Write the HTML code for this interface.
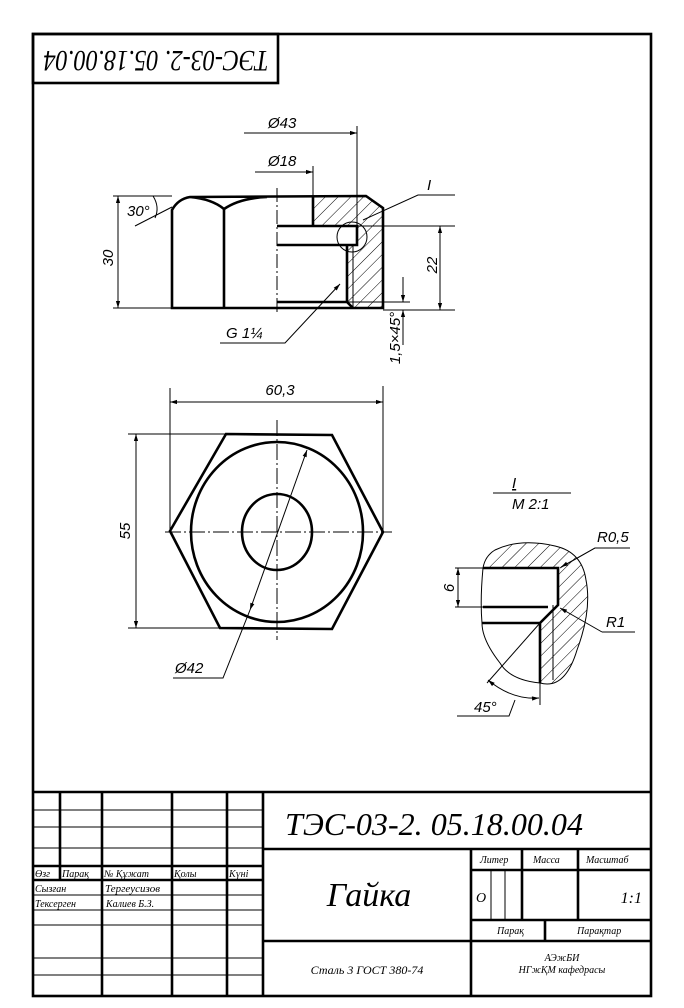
<!DOCTYPE html>
<html><head><meta charset="utf-8"><style>
html,body{margin:0;padding:0;background:#fff}
svg{display:block}
.k{stroke:#000;fill:none;stroke-width:2.6}
.t{stroke:#000;fill:none;stroke-width:1}
.d{font-family:"Liberation Sans",sans-serif;font-style:italic;font-size:15px;fill:#000}
.s{font-family:"Liberation Serif","DejaVu Serif",serif;font-style:italic;fill:#000}
</style></head><body>
<svg width="684" height="1008" viewBox="0 0 684 1008" xmlns="http://www.w3.org/2000/svg">
<defs>
<pattern id="h" width="9" height="9" patternUnits="userSpaceOnUse" patternTransform="rotate(45)">
<line x1="0" y1="0" x2="0" y2="9" stroke="#000" stroke-width="1"/></pattern>
<marker id="a" viewBox="0 0 10 10" refX="10" refY="5" markerWidth="9" markerHeight="7" orient="auto-start-reverse" markerUnits="userSpaceOnUse"><path d="M0,2 L10,5 L0,8z" fill="#000"/></marker>
</defs>
<!-- frame -->
<rect x="33" y="34" width="618" height="962" class="k" stroke-width="3"/>
<rect x="33" y="34" width="245" height="49" class="k"/>
<text class="s" font-size="30" transform="translate(156,58) rotate(180)" text-anchor="middle" dominant-baseline="middle" textLength="225" lengthAdjust="spacingAndGlyphs">ТЭС-03-2. 05.18.00.04</text>

<!-- FRONT VIEW -->
<path class="k" fill="url(#h)" stroke="none" d="M313,196 L366,196 L383,208 L383,308 L353,308 L347,302 L347,245 L357,245 L357,226 L313,226Z" style="fill:url(#h);stroke:none"/>
<path class="k" d="M190,197 L366,196 L383,208 L383,308 L172,308 L172,210 Q178,199 190,197 Q212,199 224,209 Q240,198 267,197"/>
<line class="k" x1="224" y1="209" x2="224" y2="308"/>
<path class="k" d="M313,196 L313,226 M277,226 L357,226 L357,245 L277,245 M347,245 L347,302 L353,308 M277,302 L347,302"/>
<line class="t" x1="353" y1="245" x2="353" y2="308"/>
<line class="t" x1="277" y1="188" x2="277" y2="314" stroke-dasharray="14,3,2,3"/>
<!-- dims front -->
<line class="t" x1="244" y1="133" x2="357" y2="133" marker-end="url(#a)"/>
<line class="t" x1="357" y1="126" x2="357" y2="245"/>
<text class="d" x="268" y="128">Ø43</text>
<line class="t" x1="255" y1="172" x2="313" y2="172" marker-end="url(#a)"/>
<line class="t" x1="313" y1="166" x2="313" y2="196"/>
<text class="d" x="268" y="166">Ø18</text>
<line class="t" x1="113" y1="196" x2="172" y2="196"/><line class="t" x1="113" y1="308" x2="172" y2="308"/>
<line class="t" x1="118" y1="196" x2="118" y2="308" marker-start="url(#a)" marker-end="url(#a)"/>
<text class="d" transform="translate(113,258) rotate(-90)" text-anchor="middle">30</text>
<text class="d" x="127" y="216" font-size="13">30°</text>
<path class="t" d="M153,196 Q160,207 155,218 M135,226 L172,207"/>
<line class="t" x1="357" y1="226" x2="455" y2="226"/><line class="t" x1="383" y1="310" x2="455" y2="310"/>
<line class="t" x1="440" y1="226" x2="440" y2="310" marker-start="url(#a)" marker-end="url(#a)"/>
<text class="d" transform="translate(437,265) rotate(-90)" text-anchor="middle">22</text>
<line class="t" x1="347" y1="302" x2="410" y2="302"/>
<line class="t" x1="403" y1="277" x2="403" y2="302" marker-end="url(#a)"/>
<line class="t" x1="403" y1="345" x2="403" y2="310" marker-end="url(#a)"/>
<text class="d" font-size="11" transform="translate(400,338) rotate(-90)" text-anchor="middle">1,5×45°</text>
<circle class="t" cx="352" cy="237" r="15"/>
<path class="t" d="M363,220 L418,195 L455,195"/>
<text class="d" x="427" y="190" font-size="17">I</text>
<path class="t" d="M340,284 L285,343 L220,343" marker-start="url(#a)"/>
<text class="d" x="226" y="338">G 1¼</text>

<!-- TOP VIEW -->
<polygon class="k" points="170,531 226,434 332,435 383,532 332,629 220,628"/>
<ellipse class="k" cx="277" cy="532" rx="86" ry="90"/>
<ellipse class="k" cx="277" cy="532" rx="35" ry="38"/>
<line class="t" x1="165" y1="532" x2="392" y2="532" stroke-dasharray="16,3,2,3"/>
<line class="t" x1="277" y1="420" x2="277" y2="640" stroke-dasharray="16,3,2,3"/>
<line class="t" x1="170" y1="388" x2="170" y2="531"/><line class="t" x1="383" y1="386" x2="383" y2="532"/>
<line class="t" x1="170" y1="402" x2="383" y2="402" marker-start="url(#a)" marker-end="url(#a)"/>
<text class="d" x="280" y="395" text-anchor="middle">60,3</text>
<line class="t" x1="128" y1="434" x2="226" y2="434"/><line class="t" x1="128" y1="628" x2="220" y2="628"/>
<line class="t" x1="136" y1="434" x2="136" y2="628" marker-start="url(#a)" marker-end="url(#a)"/>
<text class="d" transform="translate(130,531) rotate(-90)" text-anchor="middle">55</text>
<line class="t" x1="307" y1="450" x2="250" y2="610" marker-start="url(#a)" marker-end="url(#a)"/>
<path class="t" d="M250,610 L223,678 L173,678"/>
<text class="d" x="175" y="673">Ø42</text>

<!-- DETAIL I -->
<text class="d" x="512" y="488" font-size="16" text-decoration="underline">I</text>
<line class="t" x1="493" y1="493" x2="571" y2="493"/>
<text class="d" x="512" y="509" font-size="13">M 2:1</text>
<path fill="url(#h)" d="M483,568 L558,568 L558,605 L540,623 L540,683 Q565,690 577,650 Q592,610 586,580 Q582,552 555,546 Q520,538 495,550 Q485,556 483,568Z"/>
<path class="t" d="M483,568 Q485,556 495,550 Q520,538 555,546 Q582,552 586,580 Q592,610 577,650 Q565,690 540,683 Q510,680 500,663 Q482,640 482,623 Q480,600 483,568Z"/>
<path class="k" d="M483,568 L558,568 L558,605 L540,623 L540,683 M483,607 L548,607 M482,623 L540,623"/>
<line class="t" x1="553" y1="605" x2="553" y2="680"/>
<line class="t" x1="455" y1="568" x2="483" y2="568"/><line class="t" x1="455" y1="607" x2="483" y2="607"/>
<line class="t" x1="458" y1="568" x2="458" y2="607" marker-start="url(#a)" marker-end="url(#a)"/>
<text class="d" transform="translate(454,588) rotate(-90)" text-anchor="middle">6</text>
<path class="t" d="M630,548 L595,548 L560,568" />
<line class="t" x1="595" y1="548" x2="561" y2="567" marker-end="url(#a)"/>
<text class="d" x="597" y="542">R0,5</text>
<line class="t" x1="602" y1="632" x2="560" y2="608" marker-end="url(#a)"/>
<line class="t" x1="602" y1="632" x2="635" y2="632"/>
<text class="d" x="606" y="627">R1</text>
<line class="t" x1="540" y1="623" x2="487" y2="683"/>
<line class="t" x1="540" y1="683" x2="540" y2="705"/>
<path class="t" d="M488,680 Q512,700 539,698" marker-start="url(#a)" marker-end="url(#a)"/>
<path class="t" d="M457,716 L509,716 L515,700"/>
<text class="d" x="474" y="712">45°</text>

<!-- TITLE BLOCK -->
<g class="k" stroke-width="2.4">
<line x1="33" y1="792" x2="651" y2="792"/>
<line x1="263" y1="792" x2="263" y2="996"/>
<line x1="263" y1="849" x2="651" y2="849"/>
<line x1="263" y1="941" x2="651" y2="941"/>
<line x1="471" y1="849" x2="471" y2="996"/>
<line x1="471" y1="870" x2="651" y2="870"/>
<line x1="471" y1="920" x2="651" y2="920"/>
<line x1="522" y1="849" x2="522" y2="920"/>
<line x1="578" y1="849" x2="578" y2="920"/>
<line x1="545" y1="920" x2="545" y2="941"/>
<line x1="60" y1="792" x2="60" y2="880"/>
<line x1="102" y1="792" x2="102" y2="996"/>
<line x1="172" y1="792" x2="172" y2="996"/>
<line x1="227" y1="792" x2="227" y2="996"/>
<line x1="33" y1="866" x2="263" y2="866"/>
<line x1="33" y1="880" x2="263" y2="880"/>
</g>
<g class="t" stroke-width="1.3">
<line x1="491" y1="870" x2="491" y2="920"/><line x1="505" y1="870" x2="505" y2="920"/>
<line x1="33" y1="810" x2="263" y2="810"/><line x1="33" y1="827" x2="263" y2="827"/>
<line x1="33" y1="848" x2="263" y2="848"/>
<line x1="33" y1="895" x2="263" y2="895"/><line x1="33" y1="910" x2="263" y2="910"/>
<line x1="33" y1="925" x2="263" y2="925"/><line x1="33" y1="958" x2="263" y2="958"/>
<line x1="33" y1="975" x2="263" y2="975"/>
</g>
<g class="s" font-size="10">
<text x="35" y="877">Өзг</text><text x="62" y="877">Парақ</text><text x="104" y="877">№ Құжат</text><text x="174" y="877">Қолы</text><text x="229" y="877">Күні</text>
<text x="35" y="892">Сызған</text><text x="105" y="892" font-size="11">Тергеусизов</text>
<text x="35" y="907">Тексерген</text><text x="106" y="907">Калиев Б.З.</text>
<text x="480" y="863">Литер</text><text x="533" y="863">Масса</text><text x="586" y="863">Масштаб</text>
<text x="497" y="934">Парақ</text><text x="577" y="934">Парақтар</text>
<text x="562" y="961" text-anchor="middle">АЭжБИ</text><text x="562" y="973" text-anchor="middle">НГжҚМ кафедрасы</text>
</g>
<text class="s" x="285" y="835" font-size="32" textLength="298" lengthAdjust="spacingAndGlyphs">ТЭС-03-2. 05.18.00.04</text>
<text class="s" x="369" y="906" font-size="34" text-anchor="middle">Гайка</text>
<text class="s" x="476" y="902" font-size="14">О</text>
<text class="s" x="642" y="903" font-size="16" text-anchor="end">1:1</text>
<text class="s" x="367" y="974" font-size="12" text-anchor="middle">Сталь 3 ГОСТ 380-74</text>
</svg>
</body></html>
